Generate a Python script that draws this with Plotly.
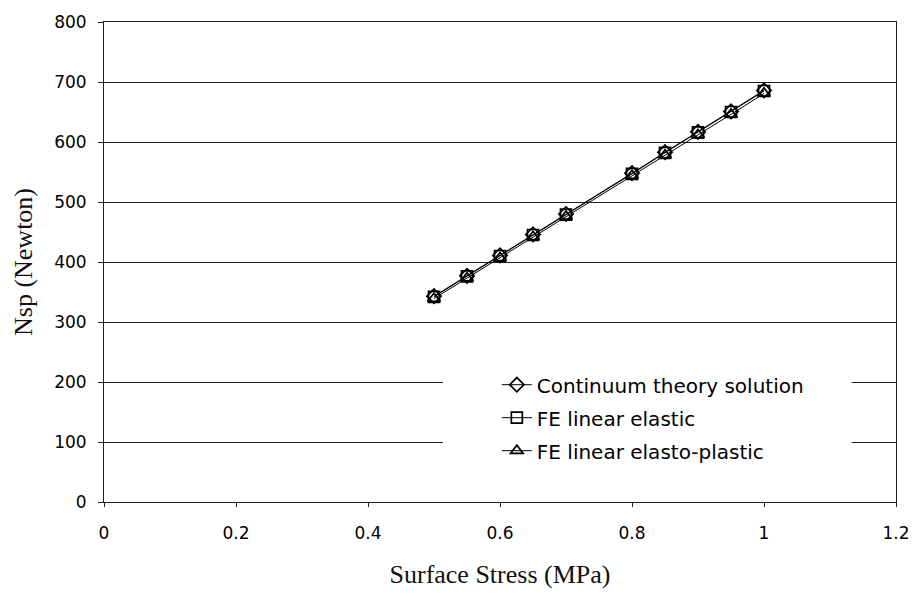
import plotly.graph_objects as go

# Surface stress (MPa) and the resulting Nsp force (N) for each method
stress = [0.5, 0.55, 0.6, 0.65, 0.7, 0.8, 0.85, 0.9, 0.95, 1.0]
continuum = [343, 377, 411, 446, 480, 548, 583, 617, 651, 686]
fe_elastic = [342, 376, 410, 445, 479, 547, 582, 616, 650, 685]
fe_plastic = [339, 373, 407, 442, 476, 544, 578, 612, 646, 681]

series = [
    ("Continuum theory solution", continuum, "diamond-open"),
    ("FE linear elastic", fe_elastic, "square-open"),
    ("FE linear elasto-plastic", fe_plastic, "triangle-up-open"),
]

x_ticks = [0, 0.2, 0.4, 0.6, 0.8, 1, 1.2]
x_labels = ["0", "0.2", "0.4", "0.6", "0.8", "1", "1.2"]
y_ticks = [0, 100, 200, 300, 400, 500, 600, 700, 800]

fig = go.Figure()
for i, (name, vals, sym) in enumerate(series):
    fig.add_trace(go.Scatter(
        x=stress, y=vals, name=name, mode="lines+markers",
        line=dict(color="black", width=1),
        marker=dict(symbol=sym, size=11, color="black", line=dict(width=1.7, color="black")),
        legendgroup=f"g{i}",
    ))

# white panel behind the legend so the grid stops around it
fig.add_shape(type="rect", xref="paper", yref="paper",
              x0=0.428, x1=0.944, y0=0.088, y1=0.275,
              fillcolor="white", line=dict(width=0), layer="above")

tick_font = dict(family="DejaVu Sans", size=17, color="black")
title_font = dict(family="Liberation Serif, Times New Roman", size=26, color="#111")

fig.update_layout(
    width=922, height=596,
    margin=dict(l=104, r=17, t=21, b=93),
    paper_bgcolor="white", plot_bgcolor="white",
    showlegend=True,
    legend=dict(x=0.496, y=0.285, xanchor="left", yanchor="top",
                bgcolor="rgba(0,0,0,0)", traceorder="grouped", tracegroupgap=4,
                font=dict(family="DejaVu Sans", size=20, color="black")),
    xaxis=dict(range=[0, 1.2], tickvals=x_ticks, ticktext=x_labels,
               showgrid=False, zeroline=False, showline=True, linecolor="#222", linewidth=1,
               mirror=True, ticks="outside", ticklen=4, tickcolor="#222",
               tickfont=tick_font, ticklabelstandoff=12,
               title=dict(text="Surface Stress (MPa)", font=title_font, standoff=22)),
    yaxis=dict(range=[0, 800], tickvals=y_ticks,
               showgrid=True, gridcolor="#222", gridwidth=1, zeroline=False,
               showline=True, linecolor="#222", linewidth=1, mirror=True,
               ticks="outside", ticklen=5, tickcolor="#222",
               tickfont=tick_font, ticklabelstandoff=8,
               title=dict(text="Nsp (Newton)", font=title_font, standoff=14)),
)

fig.write_html("out.html")
